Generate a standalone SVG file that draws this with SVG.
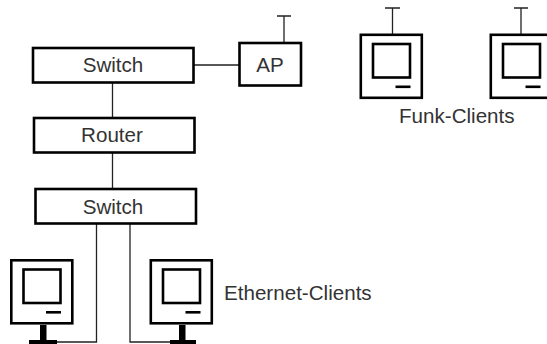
<svg xmlns="http://www.w3.org/2000/svg" width="547" height="344" viewBox="0 0 547 344">
<style>
.box{fill:#fff;stroke:#000;stroke-width:2.6}
.pc{fill:#fff;stroke:#000;stroke-width:2.6}
.ln{fill:none;stroke:#222;stroke-width:1.3}
.solid{fill:#000;stroke:none}
text{font-family:"Liberation Sans",Arial,sans-serif;font-size:20.600px;fill:#333}
.c{text-anchor:middle}
</style>
<defs>
<g id="monitor">
<rect class="pc" x="1.3" y="1.3" width="61" height="63"/>
<rect class="pc" x="13.5" y="10.5" width="37" height="33.5"/>
<rect class="solid" x="36" y="52" width="15" height="2.6"/>
</g>
</defs>
<g id="connectors">
<path class="ln" d="M194 65H239M112.500 83V117M112.500 153V189M96.500 224V342H57M130 224V342H170M284 42V16M277 16H291M392.500 34V8M385 8H400M521 34V8M514 8H528"/>
</g>
<g id="switch1"><rect class="box" x="33" y="48" width="160.500" height="34.500"/><text class="c" x="113" y="72">Switch</text></g>
<g id="ap"><rect class="box" x="239.500" y="43" width="61.500" height="42.500"/><text class="c" x="270" y="72">AP</text></g>
<g id="router"><rect class="box" x="34" y="118" width="160.500" height="34.500"/><text class="c" x="112" y="142">Router</text></g>
<g id="switch2"><rect class="box" x="35.500" y="189" width="160.500" height="34.500"/><text class="c" x="113" y="214">Switch</text></g>
<g id="pc1"><use href="#monitor" x="10" y="259"/><rect class="solid" x="40" y="325" width="6.500" height="15"/><rect class="solid" x="29" y="340" width="28" height="4"/></g>
<g id="pc2"><use href="#monitor" x="149.500" y="259"/><rect class="solid" x="179" y="325" width="6.500" height="15"/><rect class="solid" x="170" y="340" width="26" height="4"/></g>
<g id="client1"><use href="#monitor" x="359.500" y="33.500"/></g>
<g id="client2"><use href="#monitor" x="489.500" y="33.500"/></g>
<g id="label-funk"><text x="399" y="123">Funk-Clients</text></g>
<g id="label-ethernet"><text x="224" y="300">Ethernet-Clients</text></g>
</svg>
